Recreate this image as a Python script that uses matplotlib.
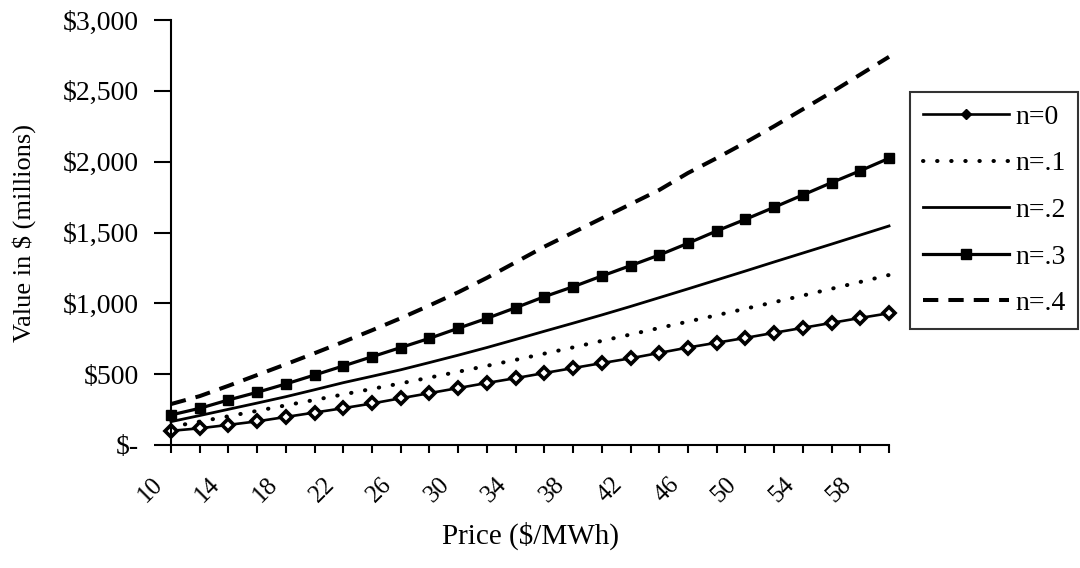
import matplotlib
matplotlib.use("Agg")
import matplotlib.pyplot as plt
from matplotlib.lines import Line2D
import matplotlib.transforms as mtransforms

# ---- data ----
prices = [10, 12, 14, 16, 18, 20, 22, 24, 26, 28, 30, 32, 34, 36, 38, 40,
          42, 44, 46, 48, 50, 52, 54, 56, 58, 60]
n0 = [100, 118, 142, 167, 198, 229, 260, 293, 330, 366, 402, 438, 472, 508,
      543, 578, 612, 650, 688, 722, 756, 792, 827, 862, 897, 930]
n1 = [128, 165, 203, 241, 280, 318, 357, 396, 435, 476, 517, 559, 601, 645,
      689, 735, 780, 826, 871, 916, 962, 1008, 1055, 1103, 1151, 1200]
n2 = [165, 208, 252, 296, 341, 390, 440, 485, 531, 582, 634, 688, 745, 803,
      860, 918, 978, 1040, 1102, 1165, 1228, 1292, 1355, 1418, 1482, 1546]
n3 = [212, 259, 318, 372, 431, 494, 558, 623, 688, 753, 824, 894, 969, 1047,
      1117, 1193, 1266, 1341, 1424, 1511, 1593, 1678, 1765, 1852, 1936, 2024]
n4 = [289, 345, 418, 494, 570, 648, 728, 810, 895, 985, 1078, 1180, 1290,
      1400, 1500, 1600, 1700, 1800, 1920, 2025, 2135, 2250, 2370, 2490, 2615,
      2740]
series_labels = ["n=0", "n=.1", "n=.2", "n=.3", "n=.4"]
xtick_labels = [str(p) if i % 2 == 0 and p != 60 else "" for i, p in enumerate(prices)]
ytick_values = [0, 500, 1000, 1500, 2000, 2500, 3000]
ytick_labels = ["$-", "$500", "$1,000", "$1,500", "$2,000", "$2,500", "$3,000"]
xlabel = "Price ($/MWh)"
ylabel = "Value in $ (millions)"

plt.rcParams["font.family"] = ["Liberation Serif", "DejaVu Serif"]

W, H = 1080, 568
fig = plt.figure(figsize=(W / 100, H / 100), dpi=100)
ax = fig.add_axes([171 / W, 1 - 445 / H, (889 - 171) / W, (445 - 20) / H])

k = "black"
dot_style = (0, (0.1, 3.4))
dash_style = (0, (3.8, 2.5))
ax.plot(prices, n0, color=k, lw=1.9, marker="D", ms=6.2, mfc="white",
        mec=k, mew=2.6, clip_on=False, label=series_labels[0])
ax.plot(prices, n1, color=k, lw=2.9, linestyle=dot_style,
        dash_capstyle="round", clip_on=False, label=series_labels[1])
ax.plot(prices, n2, color=k, lw=2.0, clip_on=False, label=series_labels[2])
ax.plot(prices, n3, color=k, lw=2.3, marker="s", ms=7.5, mfc=k, mec=k,
        clip_on=False, label=series_labels[3])
ax.plot(prices, n4, color=k, lw=2.9, linestyle=dash_style,
        clip_on=False, label=series_labels[4])

ax.set_xlim(prices[0], prices[-1])
ax.set_ylim(ytick_values[0], ytick_values[-1])

for s in ["top", "right"]:
    ax.spines[s].set_visible(False)
for s in ["left", "bottom"]:
    ax.spines[s].set_linewidth(1.5)

ax.set_yticks(ytick_values)
ax.set_yticklabels(ytick_labels, fontsize=20)
ax.tick_params(axis="y", direction="out", length=12, width=1.5, pad=11)

ax.set_xticks(prices)
ax.set_xticklabels(xtick_labels, fontsize=18, rotation=45, ha="right",
                   va="center", rotation_mode="anchor")
ax.tick_params(axis="x", direction="out", length=6, width=1.5, pad=20)
offset = mtransforms.ScaledTranslation(-12 / 100, 0, fig.dpi_scale_trans)
for lab in ax.get_xticklabels():
    lab.set_transform(lab.get_transform() + offset)

ax.set_xlabel(xlabel, fontsize=21, labelpad=11)
ax.set_ylabel(ylabel, fontsize=19)
ax.yaxis.set_label_coords((36 - 171) / (889 - 171), 0.5)

handles = [
    Line2D([], [], color=k, lw=1.9, marker="D", ms=5, mfc=k, mec=k),
    Line2D([], [], color=k, lw=2.9, linestyle=dot_style, dash_capstyle="round"),
    Line2D([], [], color=k, lw=2.0),
    Line2D([], [], color=k, lw=2.3, marker="s", ms=6.5, mfc=k, mec=k),
    Line2D([], [], color=k, lw=2.9, linestyle=dash_style),
]
leg = fig.legend(handles, series_labels, loc="upper left",
                 bbox_to_anchor=(910 / W, 1 - 92 / H), fontsize=20,
                 frameon=True, fancybox=False, shadow=False, numpoints=1,
                 handlelength=3.1, handletextpad=0.25, labelspacing=0.76,
                 borderpad=0.45, borderaxespad=0.0)
leg.get_frame().set_edgecolor(k)
leg.get_frame().set_linewidth(1.5)

fig.savefig("out.png", dpi=100)
